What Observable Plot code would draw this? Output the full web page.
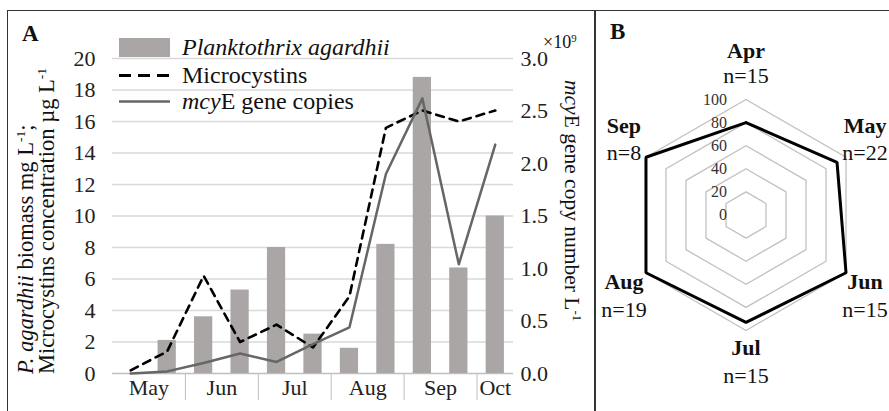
<!DOCTYPE html>
<html><head><meta charset="utf-8">
<script src="https://cdn.jsdelivr.net/npm/d3@7"></script>
<script src="https://cdn.jsdelivr.net/npm/@observablehq/plot@0.6"></script>
<style>
body{margin:0;background:#fff}
#page{position:relative;width:889px;height:411px;overflow:hidden;background:#fff;font-family:"Liberation Serif","Times New Roman",serif;color:#111}
.abs{position:absolute;white-space:nowrap}
sup{font-size:0.6em;line-height:0;vertical-align:0.6em}
.row{position:absolute;left:119px;height:27px;display:flex;align-items:center;font-size:24px;line-height:27px;white-space:nowrap}
.row svg{margin-right:12px;flex:none}
</style></head><body>
<div id="page">
  <div id="plotA" class="abs" style="left:0;top:0"></div>
  <div id="plotB" class="abs" style="left:595px;top:0"></div>
  <div class="abs" style="left:7px;top:10px;width:900px;height:420px;border:1.6px solid #333;box-sizing:border-box"></div>
  <div class="abs" style="left:594px;top:10px;width:0;height:420px;border-left:2px solid #333"></div>
  <div class="abs" style="left:22px;top:22px;font-weight:bold;font-size:23px;line-height:23px">A</div>
  <div class="abs" style="left:610px;top:20px;font-weight:bold;font-size:23px;line-height:23px">B</div>
  <div class="abs" style="left:543px;top:33px;font-size:18px;line-height:18px">×10<sup>9</sup></div>
  <div class="row" style="top:33.5px"><svg width="51" height="19"><rect width="51" height="19" fill="#a9a6a5"/></svg><i>Planktothrix agardhii</i></div>
  <div class="row" style="top:61.5px"><svg width="51" height="19"><line x1="0" x2="51" y1="9.5" y2="9.5" stroke="#000" stroke-width="3" stroke-dasharray="12,7"/></svg>Microcystins</div>
  <div class="row" style="top:87.5px"><svg width="51" height="19"><line x1="0" x2="51" y1="9.5" y2="9.5" stroke="#666" stroke-width="2.5"/></svg><span><i>mcy</i>E gene copies</span></div>
  <div class="abs" style="left:14.5px;top:374px;transform-origin:0 0;transform:rotate(-90deg);font-size:22.5px;line-height:21px"><i>P. agardhii</i> biomass mg L<sup>-1</sup>;<br>Microcystins concentration µg L<sup>-1</sup></div>
  <div class="abs" style="left:584px;top:80px;transform-origin:0 0;transform:rotate(90deg);font-size:21.5px;line-height:24px"><i>mcy</i>E gene copy number L<sup>-1</sup></div>
</div>
<script>
// ---------- Panel A data ----------
const samples = ["May","May","Jun","Jun","Jul","Jul","Aug","Aug","Sep","Sep","Oct"];
const biomass = [null, 2.1, 3.6, 5.3, 8.0, 2.5, 1.6, 8.2, 18.8, 6.7, 10.0];      // mg/L
const microcystins = [0.2, 1.4, 6.2, 2.0, 3.1, 1.65, 4.9, 15.6, 16.7, 16.0, 16.7]; // µg/L
const mcyE = [0.0, 0.02, 0.10, 0.19, 0.11, 0.28, 0.44, 1.90, 2.62, 1.04, 2.18];   // ×10^9 copies/L
const leftTicks = [0, 2, 4, 6, 8, 10, 12, 14, 16, 18, 20];
const rightTicks = [0, 0.5, 1.0, 1.5, 2.0, 2.5, 3.0];

// ---------- Panel B data ----------
const radarMonths = ["Apr", "May", "Jun", "Jul", "Aug", "Sep"];
const radarN = [15, 22, 15, 15, 19, 8];
const radarValues = [80, 91, 100, 93, 100, 100];
const radarTicks = [0, 20, 40, 60, 80, 100];

const FONT = '"Liberation Serif","Times New Roman",serif';
const k = 20 / 3; // right axis (0–3) onto left axis (0–20)

const idx = samples.map((_, i) => i);
const barRows = idx.filter(i => biomass[i] != null).map(i => ({i, v: biomass[i]}));
const mcRows = idx.map(i => ({i, v: microcystins[i]}));
const geneRows = idx.map(i => ({i, v: mcyE[i] * k}));
const monthNames = [...new Set(samples)];
const monthRows = monthNames.map(m => {
  const ii = idx.filter(i => samples[i] === m);
  return {m, c: d3.mean(ii), start: ii[0]};
});
const separators = monthRows.slice(1).map(d => d.start - 0.5);

const plotA = Plot.plot({
  width: 595, height: 411,
  marginLeft: 112, marginRight: 82, marginTop: 58, marginBottom: 38,
  x: {domain: [-0.5, samples.length - 0.5], axis: null},
  y: {domain: [0, 20], axis: null},
  style: {fontFamily: FONT, fontSize: "22px", color: "#222", background: "transparent", overflow: "visible"},
  marks: [
    Plot.ruleY(leftTicks.filter(d => d > 0), {stroke: "#d9d9d9", strokeWidth: 1.3}),
    Plot.ruleY([0], {stroke: "#bfbfbf", strokeWidth: 1.3}),
    Plot.rectY(barRows, {x1: d => d.i - 0.25, x2: d => d.i + 0.25, y: "v", fill: "#a9a6a5"}),
    Plot.line(mcRows, {x: "i", y: "v", stroke: "#000", strokeWidth: 2.6, strokeDasharray: "8,6"}),
    Plot.line(geneRows, {x: "i", y: "v", stroke: "#666", strokeWidth: 2.5}),
    Plot.axisY(leftTicks, {anchor: "left", tickSize: 0, tickPadding: 17, fontSize: 22, label: null}),
    Plot.axisY(rightTicks.map(v => v * k), {anchor: "right", tickSize: 0, tickPadding: 7, fontSize: 22, label: null,
      tickFormat: d => (d / k).toFixed(1)}),
    Plot.axisX(separators, {tickSize: 27, stroke: "#bfbfbf", tickFormat: () => "", label: null}),
    Plot.text(monthRows, {x: "c", text: "m", frameAnchor: "bottom", dy: 21, fontSize: 22})
  ]
});
document.getElementById("plotA").append(plotA);

// ---------- Panel B radar ----------
const rad = d => d * Math.PI / 180;
const ringPts = radarTicks.filter(r => r > 0).flatMap(r =>
  d3.range(radarMonths.length + 1).map(j => {
    const a = rad(j * 360 / radarMonths.length);
    return {ring: r, x: r * Math.sin(a), y: r * Math.cos(a)};
  }));
const seriesPts = d3.range(radarMonths.length + 1).map(j => {
  const v = radarValues[j % radarMonths.length];
  const a = rad(j * 360 / radarMonths.length);
  return {x: v * Math.sin(a), y: v * Math.cos(a)};
});
const labelRows = radarMonths.map((m, i) => {
  const a = rad(i * 360 / radarMonths.length);
  return {m, n: "n=" + radarN[i], x: 100 * Math.sin(a), y: 100 * Math.cos(a), s: Math.sin(a), c: Math.cos(a)};
});
function labelMarks(d) {
  const dx = Math.abs(d.s) < 0.01 ? 0 : (d.s > 0 ? 19 : -22);
  let dm, dn;
  if (d.c > 0.9) { dm = -48.5; dn = -23.5; }
  else if (d.c < -0.9) { dm = 17.5; dn = 45; }
  else if (d.c > 0) { dm = -31; dn = -4; }
  else { dm = 9; dn = 37; }
  return [
    Plot.text([d], {x: "x", y: "y", text: "m", dx, dy: dm, fontSize: 22, fontWeight: "bold"}),
    Plot.text([d], {x: "x", y: "y", text: "n", dx, dy: dn, fontSize: 22})
  ];
}
const plotB = Plot.plot({
  width: 294, height: 411,
  marginLeft: 35, marginRight: 28, marginTop: 99, marginBottom: 81,
  x: {domain: [-100, 100], axis: null},
  y: {domain: [-100, 100], axis: null},
  style: {fontFamily: FONT, fontSize: "16px", color: "#111", background: "transparent", overflow: "visible"},
  marks: [
    Plot.line(ringPts, {x: "x", y: "y", z: "ring", stroke: "#c0c0c0", strokeWidth: 1.3}),
    Plot.line(seriesPts, {x: "x", y: "y", stroke: "#000", strokeWidth: 3, strokeLinejoin: "miter"}),
    Plot.text(radarTicks, {x: d => 0, y: d => d, text: d => String(d), textAnchor: "end", dx: -19, fontSize: 16, fill: "#333"}),
    ...labelRows.flatMap(labelMarks)
  ]
});
document.getElementById("plotB").append(plotB);
</script>
</body></html>
